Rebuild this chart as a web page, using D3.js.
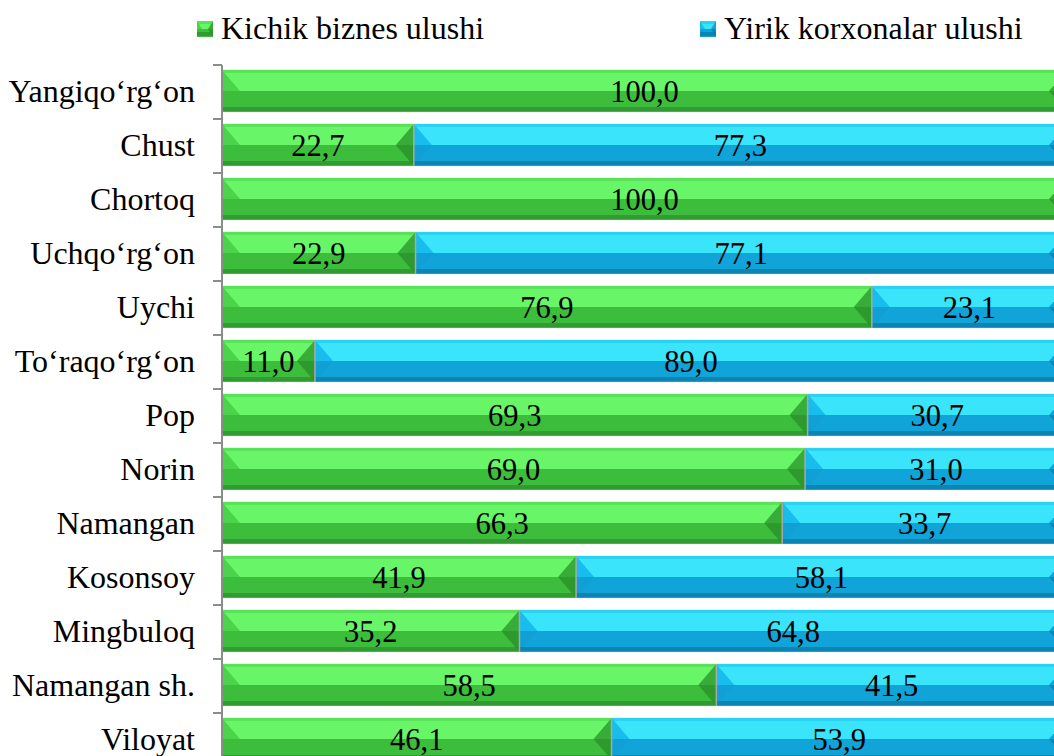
<!DOCTYPE html>
<html>
<head>
<meta charset="utf-8">
<script src="https://cdn.jsdelivr.net/npm/d3@7"></script>
<style>
  body { margin: 0; background: #fff; }
  svg { display: block; }
</style>
</head>
<body>
<svg width="1054" height="756"></svg>
<script>
// districts, top to bottom
const categories = ["Yangiqo‘rg‘on", "Chust", "Chortoq", "Uchqo‘rg‘on", "Uychi", "To‘raqo‘rg‘on",
  "Pop", "Norin", "Namangan", "Kosonsoy", "Mingbuloq", "Namangan sh.", "Viloyat"];
const smallBiz = [100.0, 22.7, 100.0, 22.9, 76.9, 11.0, 69.3, 69.0, 66.3, 41.9, 35.2, 58.5, 46.1];
const largeBiz = [0, 77.3, 0, 77.1, 23.1, 89.0, 30.7, 31.0, 33.7, 58.1, 64.8, 41.5, 53.9];
const seriesNames = ["Kichik biznes ulushi", "Yirik korxonalar ulushi"];

var svg = d3.select("svg");
var FONT = "'Liberation Serif', 'Times New Roman', serif";

var x = d3.scaleLinear().domain([0, 100]).range([222, 1067]);
var y = d3.scaleBand().domain(categories).range([65, 767]).paddingInner(0.22).paddingOuter(0.11);

var fmt = function(v) { return d3.format(".1f")(v).replace(".", ","); };

// bevel colours
var palettes = [
  { top: "#68f668", bot: "#3cbd3c", lt: "#4cd34c", lb: "#3cbd3c", rt: "#38ac38", rb: "#2e9a2e", edge: "#2f8f2f", hi: "#58e258" },
  { top: "#3ae4fb", bot: "#11a4d8", lt: "#18bdee", lb: "#10a0d6", rt: "#12a6d6", rb: "#0c88b8", edge: "#0d7aa6", hi: "#2ad2f2" }
];

function bevel(g, x0, x1, top, h, p, b) {
  var mid = top + h / 2, bottom = top + h;
  b = Math.min(b, (x1 - x0) / 2);
  g.append("rect").attr("x", x0).attr("y", top).attr("width", x1 - x0).attr("height", h).attr("fill", p.bot);
  g.append("rect").attr("x", x0).attr("y", top).attr("width", x1 - x0).attr("height", h / 2).attr("fill", p.top);
  g.append("rect").attr("x", x0).attr("y", top).attr("width", x1 - x0).attr("height", 3).attr("fill", p.hi);
  g.append("polygon").attr("points", [[x0, top], [x0 + b, mid], [x0, mid]].join(" ")).attr("fill", p.lt);
  g.append("polygon").attr("points", [[x0, mid], [x0 + b, mid], [x0, bottom]].join(" ")).attr("fill", p.lb);
  g.append("polygon").attr("points", [[x1, top], [x1 - b, mid], [x1, mid]].join(" ")).attr("fill", p.rt);
  g.append("polygon").attr("points", [[x1, mid], [x1 - b, mid], [x1, bottom]].join(" ")).attr("fill", p.rb);
  g.append("rect").attr("x", x0).attr("y", bottom - 5).attr("width", x1 - x0).attr("height", 4).attr("fill", p.edge).attr("opacity", 0.75);
}

// bars
var rows = svg.append("g").selectAll("g")
  .data(categories)
  .enter().append("g");

rows.each(function(c, i) {
  var g = d3.select(this);
  var top = y(c) - 1, h = y.bandwidth();
  var a = smallBiz[i], bv = largeBiz[i];
  var segs = [[0, a, 0], [a, a + bv, 1]];
  segs.forEach(function(s) {
    if (s[1] - s[0] <= 0) return;
    var x0 = x(s[0]), x1 = x(s[1]);
    bevel(g.append("g"), x0, x1, top, h, palettes[s[2]], 18);
    if (s[0] > 0) {
      g.append("line").attr("x1", x0).attr("x2", x0).attr("y1", top).attr("y2", top + h)
        .attr("stroke", "#a8a8a8").attr("stroke-width", 1.5);
    }
    g.append("text")
      .attr("x", (x0 + x1) / 2)
      .attr("y", top + h / 2 + 11)
      .attr("text-anchor", "middle")
      .style("font-family", FONT)
      .style("font-size", "30.5px")
      .attr("fill", "#000")
      .text(fmt(s[1] - s[0]));
  });
});

// category axis
var yAxis = svg.append("g")
  .attr("transform", "translate(222,0)")
  .call(d3.axisLeft(y).tickSize(0).tickPadding(27));
yAxis.select(".domain").remove();
yAxis.selectAll("text")
  .style("font-family", FONT)
  .style("font-size", "32px")
  .attr("fill", "#000")
  .attr("dy", "0.32em");

var bounds = d3.range(categories.length + 1).map(function(i) { return 65 + i * y.step(); });
svg.append("line").attr("x1", 222).attr("x2", 222).attr("y1", 65).attr("y2", 767)
  .attr("stroke", "#8c8c8c").attr("stroke-width", 2);
svg.append("g").selectAll("line").data(bounds).enter().append("line")
  .attr("x1", 213).attr("x2", 222).attr("y1", function(d) { return d; }).attr("y2", function(d) { return d; })
  .attr("stroke", "#8c8c8c").attr("stroke-width", 2);

// legend
var legendX = [197, 700];
seriesNames.forEach(function(name, i) {
  var lg = svg.append("g");
  bevel(lg, legendX[i], legendX[i] + 16, 21, 16, palettes[i], 5);
  lg.append("text")
    .attr("x", legendX[i] + 24)
    .attr("y", 39)
    .style("font-family", FONT)
    .style("font-size", "32px")
    .attr("fill", "#000")
    .text(name);
});
</script>
</body>
</html>
